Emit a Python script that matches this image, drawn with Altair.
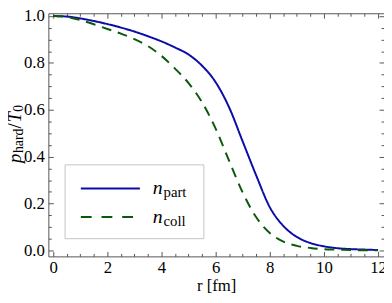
import altair as alt
import pandas as pd

# ---- data ----
r_fm = [0, 0.5, 1, 1.5, 2, 2.5, 3, 3.5, 4, 4.5, 5, 5.5, 6, 6.5, 7, 7.5, 8,
        8.5, 9, 9.5, 10, 10.5, 11, 11.5, 12]
n_part = [1.000, 0.998, 0.990, 0.979, 0.966, 0.951, 0.934, 0.914, 0.892, 0.866,
          0.836, 0.788, 0.718, 0.610, 0.465, 0.320, 0.185, 0.105, 0.058, 0.032,
          0.018, 0.010, 0.006, 0.004, 0.002]
n_coll = [1.000, 0.996, 0.983, 0.965, 0.945, 0.925, 0.902, 0.872, 0.830, 0.776,
          0.714, 0.632, 0.520, 0.382, 0.247, 0.142, 0.075, 0.038, 0.020, 0.011,
          0.006, 0.004, 0.002, 0.001, 0.001]
series_names = ["n_part", "n_coll"]
x_major = [0, 2, 4, 6, 8, 10, 12]
x_minor = [i * 0.5 for i in range(25)]
y_major = [0.0, 0.2, 0.4, 0.6, 0.8, 1.0]
y_minor = [round(i * 0.05, 2) for i in range(21)]

rows = []
for name, vals in zip(series_names, [n_part, n_coll]):
    for r, v in zip(r_fm, vals):
        rows.append({"r": r, "v": v, "series": name})
df = pd.DataFrame(rows)

W, H = 341, 247
BLUE = "#0c0ca8"
GREEN = "#0b5a0b"
FRAME = "#555555"
FONT = "Liberation Serif"

xscale = alt.Scale(domain=[-0.18, 12.22], nice=False, zero=False)
yscale = alt.Scale(domain=[-0.025, 1.012], nice=False, zero=False)

x_tick = {"condition": {"test": "datum.value % 2 == 0", "value": 5}, "value": 3}
y_tick = {"condition": {"test": "abs(datum.value*5 - round(datum.value*5)) < 0.001", "value": 5}, "value": 3}

base = alt.Chart(df)

lines = base.mark_line(strokeWidth=2, interpolate="monotone").encode(
    x=alt.X("r:Q", scale=xscale,
            axis=alt.Axis(values=x_major, format="d", ticks=False, domain=False, grid=False,
                          labelPadding=3, labelFlush=False, title="r [fm]", titlePadding=3)),
    y=alt.Y("v:Q", scale=yscale,
            axis=alt.Axis(values=y_major, format=".1f", ticks=False, domain=False, grid=False,
                          labelPadding=4, labelFlush=False, title="")),
    color=alt.Color("series:N", scale=alt.Scale(domain=series_names, range=[BLUE, GREEN]), legend=None),
    strokeDash=alt.StrokeDash("series:N", scale=alt.Scale(domain=series_names, range=[[1, 0], [10, 7]]), legend=None),
)

ticks_bl = base.mark_line(opacity=0).encode(
    x=alt.X("r:Q", scale=xscale,
            axis=alt.Axis(orient="top", offset=-H, values=x_minor, labels=False, domain=False,
                          grid=False, tickSize=x_tick, title="")),
    y=alt.Y("v:Q", scale=yscale,
            axis=alt.Axis(orient="right", offset=-W, values=y_minor, labels=False, domain=False,
                          grid=False, tickSize=y_tick, title="")),
)
ticks_tr = base.mark_line(opacity=0).encode(
    x=alt.X("r:Q", scale=xscale,
            axis=alt.Axis(orient="bottom", offset=-H, values=x_minor, labels=False, domain=False,
                          grid=False, tickSize=x_tick, title="")),
    y=alt.Y("v:Q", scale=yscale,
            axis=alt.Axis(orient="left", offset=-W, values=y_minor, labels=False, domain=False,
                          grid=False, tickSize=y_tick, title="")),
)

one = pd.DataFrame({"k": [0]})

def txt(s, x, y, size, style="normal", angle=0, align="left"):
    return alt.Chart(one).mark_text(
        text=s, font=FONT, fontSize=size, fontStyle=style, angle=angle,
        align=align, baseline="alphabetic", color="black"
    ).encode(x=alt.value(x), y=alt.value(y))

# y title: p_hard / T_0 (rotated), positions in plot-area pixels
ytitle = [
    txt("p", -28, 152, 19, "italic", 270),
    txt("hard", -25.5, 142, 14, "normal", 270),
    txt("/", -28, 117, 19, "normal", 270),
    txt("T", -28, 111, 19, "italic", 270),
    txt("0", -25.5, 100, 14, "normal", 270),
]

# legend (plot-area pixels)
leg_box = alt.Chart(one).mark_rect(fill="white", stroke="#c4c4c4", strokeWidth=1).encode(
    x=alt.value(17), x2=alt.value(158), y=alt.value(154), y2=alt.value(229))
leg_l1 = alt.Chart(one).mark_rule(color=BLUE, strokeWidth=2.2).encode(
    x=alt.value(33), x2=alt.value(93), y=alt.value(178))
leg_l2 = alt.Chart(one).mark_rule(color=GREEN, strokeWidth=2.2, strokeDash=[11, 10]).encode(
    x=alt.value(33), x2=alt.value(93), y=alt.value(207))
leg_txt = [
    txt("n", 106, 184, 20, "italic"),
    txt("part", 117, 187, 15),
    txt("n", 106, 213, 20, "italic"),
    txt("coll", 117, 216, 15),
]

chart = alt.layer(
    lines, ticks_bl, ticks_tr, leg_box, leg_l1, leg_l2, *leg_txt, *ytitle
).resolve_axis(x="independent", y="independent").properties(
    width=W, height=H,
    autosize=alt.AutoSizeParams(type="none"),
    padding={"left": 41, "top": 3, "right": 0, "bottom": 45},
).configure_view(stroke=FRAME, strokeWidth=1).configure_axis(
    labelFont=FONT, titleFont=FONT, labelFontSize=17, titleFontSize=17,
    titleFontWeight="normal", labelColor="black", titleColor="black",
    tickColor=FRAME, tickWidth=1,
)

chart.save("out.html", embed_options={"renderer": "svg", "actions": False})
